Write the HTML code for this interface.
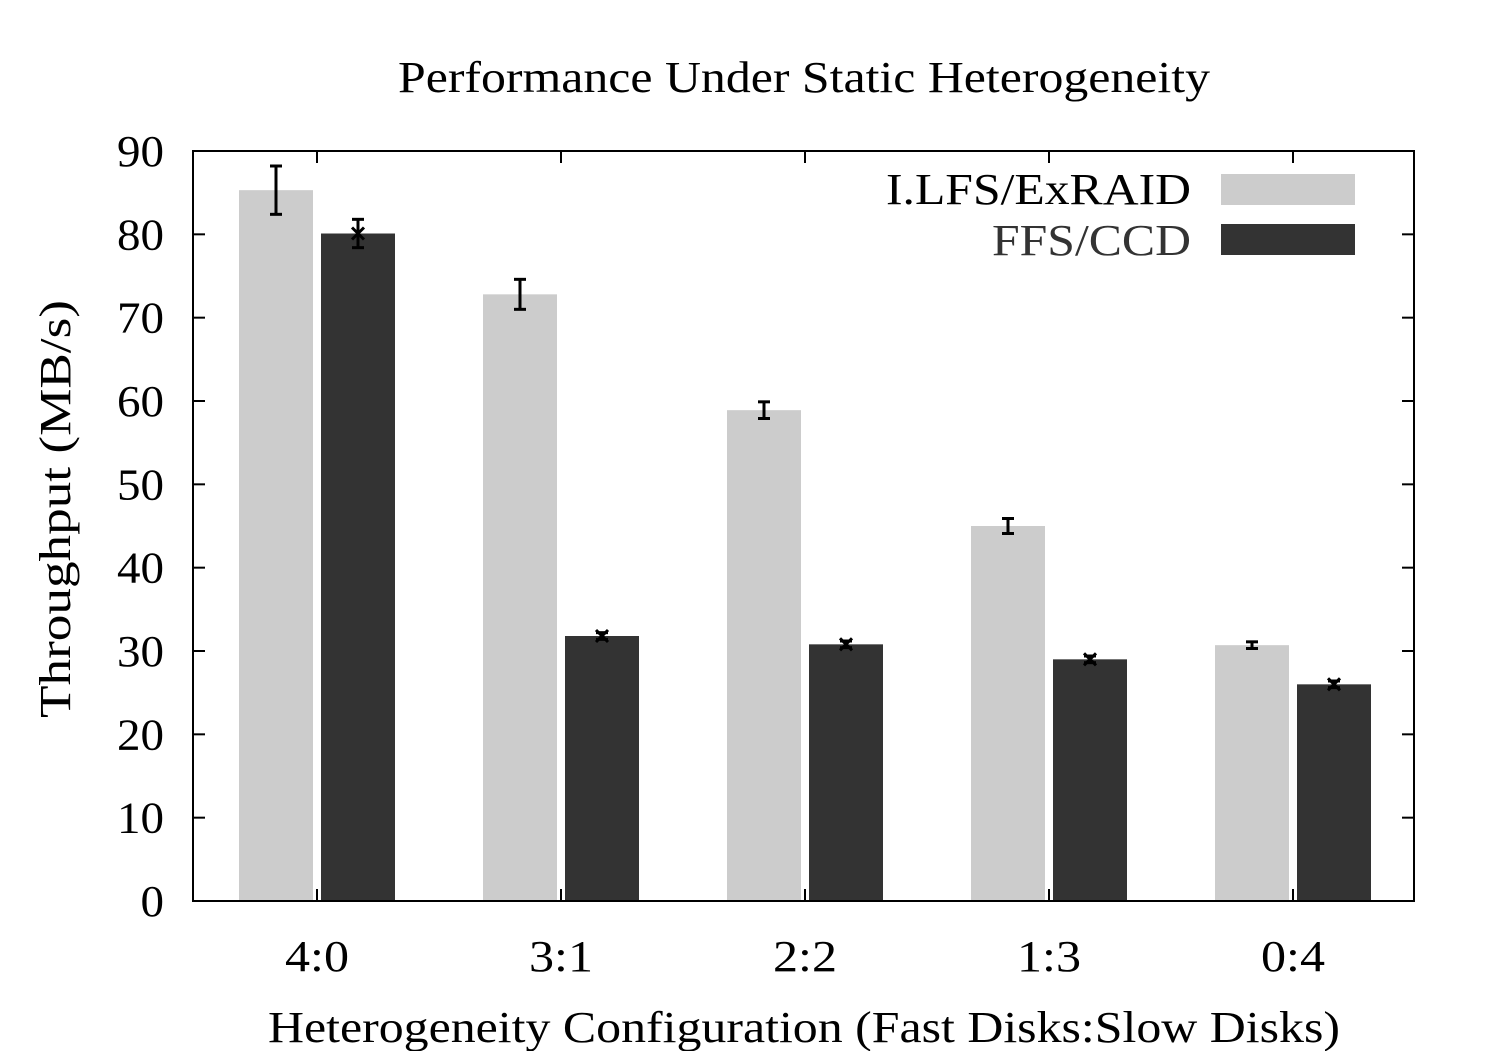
<!DOCTYPE html>
<html><head><meta charset="utf-8"><style>
html,body{margin:0;padding:0;background:#fff}
svg text{font-family:"Liberation Serif",serif;fill:#000}
</style></head><body>
<svg id="chart" width="1501" height="1051" viewBox="0 0 1501 1051" xmlns="http://www.w3.org/2000/svg">
<text x="398" y="92" font-size="44" textLength="812" lengthAdjust="spacingAndGlyphs">Performance Under Static Heterogeneity</text>
<text transform="translate(70,718) rotate(-90)" font-size="44" textLength="418" lengthAdjust="spacingAndGlyphs">Throughput (MB/s)</text>
<text x="268" y="1042" font-size="44" textLength="1072" lengthAdjust="spacingAndGlyphs">Heterogeneity Configuration (Fast Disks:Slow Disks)</text>
<g id="marks"></g>
<g id="axes"></g>
<g>
<text x="886" y="204" font-size="44" textLength="305" lengthAdjust="spacingAndGlyphs">I.LFS/ExRAID</text>
<rect x="1221" y="174" width="134" height="31" fill="#cccccc"/>
<text x="992" y="255" font-size="44" textLength="199" lengthAdjust="spacingAndGlyphs" style="fill:#333">FFS/CCD</text>
<rect x="1221" y="224" width="134" height="31" fill="#333333"/>
</g>
</svg>
<script>
const categories = ["4:0","3:1","2:2","1:3","0:4"];
const ilfsValues = [85.3, 72.8, 58.9, 45.0, 30.7];
const ilfsErrors = [2.9, 1.8, 1.0, 0.9, 0.4];
const ffsValues = [80.1, 31.8, 30.8, 29.0, 26.0];
const ffsErrors = [1.7, 0.4, 0.4, 0.4, 0.4];
const yTicks = [0,10,20,30,40,50,60,70,80,90];

const NS = "http://www.w3.org/2000/svg";
const L=193, R=1414, T=151, B=901, YMAX=90;
const y = v => B - v/YMAX*(B-T);
const xc = i => 317 + i*244;
const BW = 74;
function mk(tag, attrs, parent){const e=document.createElementNS(NS,tag);for(const k in attrs)e.setAttribute(k,attrs[k]);parent.appendChild(e);return e;}
const marks=document.getElementById('marks'), axes=document.getElementById('axes');

function errBar(cx, v, err, parent, cross){
  const g=mk('g',{stroke:'#000','stroke-width':3},parent);
  
  
  mk('line',{x1:cx,x2:cx,y1:y(v+err),y2:y(v-err)},g);
  mk('line',{x1:cx-6,x2:cx+6,y1:y(v+err),y2:y(v+err)},g);
  mk('line',{x1:cx-6,x2:cx+6,y1:y(v-err),y2:y(v-err)},g);
  if(cross){
    mk('line',{x1:cx-6,x2:cx+6,y1:y(v)-6,y2:y(v)+6},g);
    mk('line',{x1:cx-6,x2:cx+6,y1:y(v)+6,y2:y(v)-6},g);
  }
}
categories.forEach((c,i)=>{
  const lx=xc(i)-4-BW, dx=xc(i)+4;
  const b1=mk('rect',{x:lx,y:y(ilfsValues[i]),width:BW,height:B-y(ilfsValues[i]),fill:'#cccccc'},marks);
  
  
  const b2=mk('rect',{x:dx,y:y(ffsValues[i]),width:BW,height:B-y(ffsValues[i]),fill:'#333333'},marks);
  
  
  errBar(lx+BW/2, ilfsValues[i], ilfsErrors[i], marks, false);
  errBar(dx+BW/2, ffsValues[i], ffsErrors[i], marks, true);
});
const frame=mk('rect',{x:L,y:T,width:R-L,height:B-T,fill:'none',stroke:'#000','stroke-width':2},axes);


yTicks.forEach(t=>{
  mk('line',{x1:L,x2:L+12,y1:y(t),y2:y(t),stroke:'#000','stroke-width':2},axes);
  mk('line',{x1:R-12,x2:R,y1:y(t),y2:y(t),stroke:'#000','stroke-width':2},axes);
  const s=String(t);
  const w=s.length*23.5;
  const tx=mk('text',{x:164-w,y:y(t)+15,'font-size':44,textLength:w,lengthAdjust:'spacingAndGlyphs'},axes);
  tx.textContent=s;
  
  
});
categories.forEach((c,i)=>{
  mk('line',{x1:xc(i),x2:xc(i),y1:B,y2:B-12,stroke:'#000','stroke-width':2},axes);
  mk('line',{x1:xc(i),x2:xc(i),y1:T,y2:T+12,stroke:'#000','stroke-width':2},axes);
  const tx=mk('text',{x:xc(i)-32,y:971,'font-size':44,textLength:64,lengthAdjust:'spacingAndGlyphs'},axes);
  tx.textContent=c;
  
  
});
</script>
</body></html>
